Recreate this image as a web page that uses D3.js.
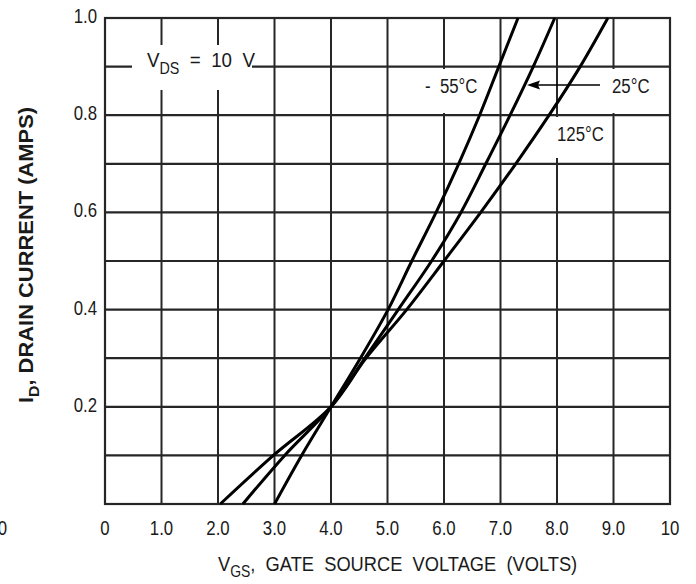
<!DOCTYPE html>
<html>
<head>
<meta charset="utf-8">
<script src="https://cdn.jsdelivr.net/npm/d3@7"></script>
<style>
  body { margin: 0; background: #fff; }
  text { font-family: "Liberation Sans", Arial, sans-serif; fill: #1a1a1a; white-space: pre; }
</style>
</head>
<body>
<svg id="chart" width="696" height="584"></svg>
<script>
// Data
const drainCurrent = [0, 0.1, 0.2, 0.3, 0.4, 0.5, 0.6, 0.7, 0.8, 0.9, 1.0];
const vgsMinus55 = [3.0, 3.48, 4.0, 4.52, 5.01, 5.43, 5.86, 6.26, 6.63, 6.97, 7.31];
const vgs25 = [2.44, 3.18, 4.0, 4.6, 5.19, 5.78, 6.3, 6.74, 7.17, 7.58, 7.96];
const vgs125 = [2.04, 2.98, 4.0, 4.62, 5.34, 6.0, 6.65, 7.27, 7.86, 8.41, 8.9];
const xTicks = [0, 1, 2, 3, 4, 5, 6, 7, 8, 9, 10];
const xTickLabels = ["0", "1.0", "2.0", "3.0", "4.0", "5.0", "6.0", "7.0", "8.0", "9.0", "10"];
const yGrid = [0.1, 0.2, 0.3, 0.4, 0.5, 0.6, 0.7, 0.8, 0.9, 1.0];
const yTicks = [0.2, 0.4, 0.6, 0.8, 1.0];

const GRID = "#262626";
const NARROW = 0.8; // the original type is a condensed face
const svg = d3.select("#chart");

const x = d3.scaleLinear().domain([0, 10]).range([105, 670]);
const y = d3.scaleLinear().domain([0, 1]).range([504, 18]);

// label helper: a squeezed group at (px, py)
function label(px, py, rot) {
  const g = svg.append("g")
    .attr("transform", `translate(${px},${py})` + (rot ? ` rotate(${rot})` : "") + ` scale(${NARROW},1)`);
  return g.append("text");
}
// squeeze a finished label so that it is `width` px long
function fit(t, px, py, rot, width) {
  const w = t.node().getComputedTextLength();
  d3.select(t.node().parentNode)
    .attr("transform", `translate(${px},${py})` + (rot ? ` rotate(${rot})` : "") + ` scale(${width / w},1)`);
}

// grid
svg.append("g").selectAll("line").data(xTicks).enter().append("line")
  .attr("x1", d => x(d)).attr("x2", d => x(d))
  .attr("y1", y(0)).attr("y2", y(1))
  .attr("stroke", GRID).attr("stroke-width", 2);
svg.append("g").selectAll("line").data(yGrid).enter().append("line")
  .attr("x1", x(0)).attr("x2", x(10))
  .attr("y1", d => y(d)).attr("y2", d => y(d))
  .attr("stroke", GRID).attr("stroke-width", 2.2);

// white patches behind the labels
const patches = [
  [132, 45, 120, 45],
  [418, 69, 61, 44],
  [604, 69, 58, 44],
  [552, 117, 60, 41]
];
svg.append("g").selectAll("rect").data(patches).enter().append("rect")
  .attr("x", d => d[0]).attr("y", d => d[1])
  .attr("width", d => d[2]).attr("height", d => d[3])
  .attr("fill", "#fff");

// border
svg.append("rect")
  .attr("x", x(0)).attr("y", y(1))
  .attr("width", x(10) - x(0)).attr("height", y(0) - y(1))
  .attr("fill", "none").attr("stroke", GRID).attr("stroke-width", 2.2);

// curves
const line = d3.line()
  .x(d => x(d[0]))
  .y(d => y(d[1]))
  .curve(d3.curveCatmullRom);
[vgsMinus55, vgs25, vgs125].forEach(series => {
  svg.append("path")
    .datum(series.map((v, i) => [v, drainCurrent[i]]))
    .attr("d", line)
    .attr("fill", "none")
    .attr("stroke", "#000")
    .attr("stroke-width", 3)
    .style("stroke-linejoin", "round");
});

// tick labels
xTicks.forEach((d, i) => {
  label(x(d), 535).attr("text-anchor", "middle").attr("font-size", 21).text(xTickLabels[i]);
});
yTicks.forEach(d => {
  label(97, y(d) + 5).attr("text-anchor", "end").attr("font-size", 21).text(d.toFixed(1));
});
// fragment of a neighbouring label at the left edge
label(7, 535).attr("text-anchor", "end").attr("font-size", 21).text("0");

// axis titles
const xt = label(0, 0).attr("font-size", 21);
xt.append("tspan").text("V");
xt.append("tspan").attr("font-size", 16).attr("dy", 6).text("GS");
xt.append("tspan").attr("dy", -6).text(",  GATE  SOURCE  VOLTAGE  (VOLTS)");
fit(xt, 218, 571, 0, 359);

const yt = label(0, 0).attr("font-size", 21).attr("font-weight", "bold");
yt.append("tspan").text("I");
yt.append("tspan").attr("font-size", 15).attr("dy", 6).text("D");
yt.append("tspan").attr("dy", -6).text(", DRAIN CURRENT (AMPS)");
fit(yt, 33, 403, -90, 296);

// annotations
const vds = label(0, 0).attr("font-size", 21);
vds.append("tspan").text("V");
vds.append("tspan").attr("font-size", 16).attr("dy", 7).text("DS");
vds.append("tspan").attr("dy", -7).text("  =  10  V");
fit(vds, 147, 67, 0, 108);

label(425, 93).attr("font-size", 21).text("-  55°C");
label(612, 93).attr("font-size", 21).text("25°C");
label(557, 141).attr("font-size", 21).text("125°C");

// arrow to the 25 °C curve
svg.append("line")
  .attr("x1", 600).attr("x2", 536).attr("y1", 85).attr("y2", 85)
  .attr("stroke", "#000").attr("stroke-width", 1.5);
svg.append("path")
  .attr("d", "M527,85 L540,80.5 L538,85 L540,89.5 Z")
  .attr("fill", "#000");
</script>
</body>
</html>
